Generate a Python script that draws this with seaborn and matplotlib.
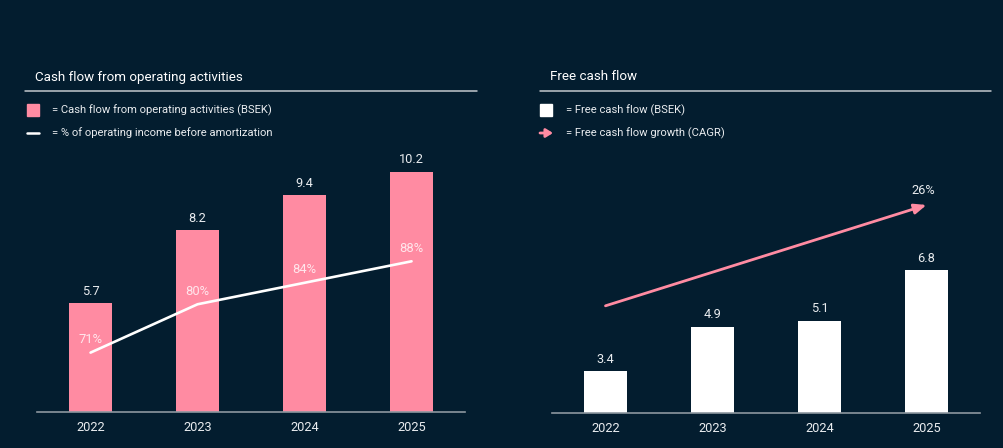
import numpy as np
import pandas as pd
import seaborn as sns
import matplotlib.pyplot as plt
from matplotlib.patches import Rectangle, FancyArrowPatch
from matplotlib.lines import Line2D

years = ["2022", "2023", "2024", "2025"]
cash_flow_ops = [5.7, 8.2, 9.4, 10.2]
pct_income = [71, 80, 84, 88]
free_cash_flow = [3.4, 4.9, 5.1, 6.8]
fcf_cagr = "26%"

BG = "#031d2f"
PINK = "#ff8ba2"
WHITE = "#ffffff"
TXT = "#e9ecef"
RULE = "#c3c8cd"
AXIS = "#8d979f"

sns.set_theme(style="white")
plt.rcParams["font.family"] = ["Roboto", "DejaVu Sans"]

df_left = pd.DataFrame({"year": years, "value": cash_flow_ops, "pct": pct_income})
df_right = pd.DataFrame({"year": years, "value": free_cash_flow})

fig = plt.figure(figsize=(10.04, 4.48), dpi=100, facecolor=BG)
ax1 = fig.add_axes([0.0369, 0.081, 0.4263, 0.584])
ax2 = fig.add_axes([0.5498, 0.079, 0.4263, 0.586])


def style_axis(ax, ymax):
    ax.set_facecolor(BG)
    ax.patch.set_alpha(0)
    ax.set_xlim(-0.5, 3.5)
    ax.set_ylim(2, ymax)
    for s in ["top", "right", "left"]:
        ax.spines[s].set_visible(False)
    ax.spines["bottom"].set_color(AXIS)
    ax.spines["bottom"].set_linewidth(1.2)
    ax.set_yticks([])
    ax.set_xlabel("")
    ax.set_ylabel("")
    ax.tick_params(axis="x", length=0, pad=6.5, colors=TXT, labelsize=9.2)


# left panel: cash flow bars + percentage line
sns.barplot(data=df_left, x="year", y="value", ax=ax1, color=PINK,
            saturation=1, width=0.4, edgecolor="none")
style_axis(ax1, 10.94)
ax1.bar_label(ax1.containers[0], labels=[f"{v:.1f}" for v in cash_flow_ops],
              padding=4, color=TXT, fontsize=9.2)

tw = ax1.twinx()
tw.set_ylim(60, 108.7)
tw.axis("off")
sns.lineplot(x=np.arange(len(years)), y=pct_income, ax=tw, color=WHITE,
             linewidth=1.9)
for i, p in enumerate(pct_income):
    tw.annotate(f"{p}%", (i, p), xytext=(0, 9.5), textcoords="offset points",
                ha="center", va="center", color="#ffe6ec", fontsize=9.4)

# right panel: free cash flow bars + CAGR arrow
sns.barplot(data=df_right, x="year", y="value", ax=ax2, color=WHITE,
            saturation=1, width=0.4, edgecolor="none")
style_axis(ax2, 10.85)
ax2.bar_label(ax2.containers[0], labels=[f"{v:.1f}" for v in free_cash_flow],
              padding=4, color=TXT, fontsize=9.2)

arrow_offset = 2.2
start = (0, free_cash_flow[0] + arrow_offset)
end = (len(years) - 1, free_cash_flow[-1] + arrow_offset)
ax2.annotate("", xy=end, xytext=start,
             arrowprops=dict(arrowstyle="-|>,head_length=0.6,head_width=0.25",
                             color=PINK, lw=2, shrinkA=0, shrinkB=0))
ax2.annotate(fcf_cagr, end, xytext=(-2, 10.5), textcoords="offset points",
             ha="center", va="center", color=TXT, fontsize=9.2)

# headers and legends
W, H = 1004, 448


def fx(x):
    return x / W


def fy(y):
    return 1 - y / H


fig.text(fx(35), fy(77), "Cash flow from operating activities", color=WHITE,
         fontsize=9.6, va="center", ha="left")
fig.text(fx(550), fy(77), "Free cash flow", color=WHITE,
         fontsize=9.6, va="center", ha="left")
fig.add_artist(Line2D([fx(25), fx(477)], [fy(91), fy(91)], color=RULE, lw=1.1))
fig.add_artist(Line2D([fx(540), fx(991)], [fy(91), fy(91)], color=RULE, lw=1.1))

fig.add_artist(Rectangle((fx(27), fy(116)), 12 / W, 12 / H, color=PINK,
                         transform=fig.transFigure))
fig.text(fx(52), fy(110), "= Cash flow from operating activities (BSEK)",
         color=TXT, fontsize=8.1, va="center")
fig.add_artist(Line2D([fx(27), fx(39)], [fy(133), fy(133)], color=WHITE, lw=1.8))
fig.text(fx(52), fy(133), "= % of operating income before amortization",
         color=TXT, fontsize=8.1, va="center")

fig.add_artist(Rectangle((fx(540), fy(116)), 12 / W, 12 / H, color=WHITE,
                         transform=fig.transFigure))
fig.text(fx(566), fy(110), "= Free cash flow (BSEK)",
         color=TXT, fontsize=8.1, va="center")
fig.add_artist(FancyArrowPatch((fx(540), fy(133)), (fx(553), fy(133)),
                               transform=fig.transFigure, color=PINK, lw=2,
                               shrinkA=0, shrinkB=0,
                               arrowstyle="-|>,head_length=4,head_width=2.5"))
fig.text(fx(566), fy(133), "= Free cash flow growth (CAGR)",
         color=TXT, fontsize=8.1, va="center")

fig.savefig("out.png", dpi=100, facecolor=BG)
